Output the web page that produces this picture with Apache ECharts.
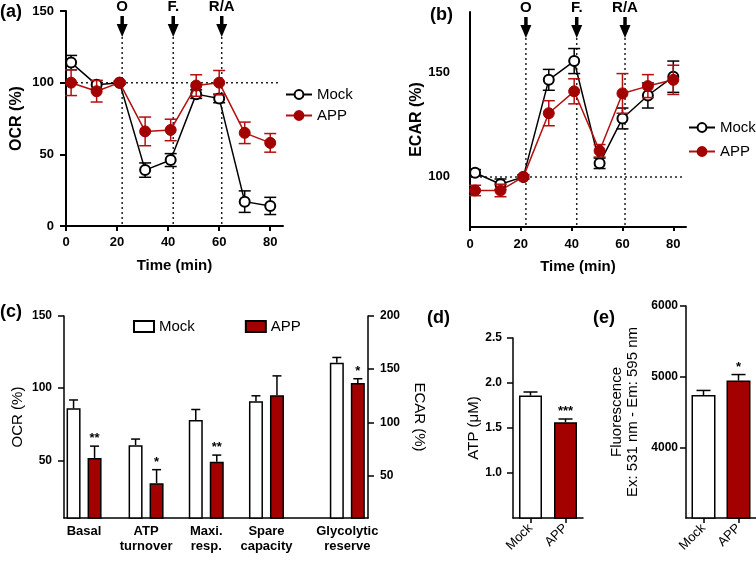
<!DOCTYPE html>
<html><head><meta charset="utf-8">
<script src="https://cdn.jsdelivr.net/npm/echarts@6/dist/echarts.min.js"></script>
<style>html,body{margin:0;padding:0;background:#fff}#c{width:756px;height:561px}</style>
</head><body><div id="c"></div>
<script>
// ---------------- data ----------------
const timeMin = [2, 12, 21, 31, 41, 51, 60, 70, 80];
const ocrMock = [114, 98.5, 100, 39, 46, 92, 89, 17, 14];
const ocrMockErr = [5, 3, 1, 5, 4.5, 3, 3, 7.5, 6];
const ocrApp = [100, 94, 100, 66, 67, 98, 100, 65, 58];
const ocrAppErr = [9, 7.5, 1, 10, 7.5, 7.5, 8.5, 7.5, 6.5];
const ecarMock = [102, 96.5, 100, 146.5, 155.5, 106.5, 128, 139, 148];
const ecarMockErr = [1.5, 2.5, 1, 5, 6, 2.5, 5, 6, 7.5];
const ecarApp = [93.5, 93.5, 100, 130.5, 141, 112.5, 140, 143.5, 146.5];
const ecarAppErr = [2.5, 3, 1, 6, 6, 3, 9.5, 5.5, 7];
const injectTimes = [22, 42, 61];
const injectLabels = ['O', 'F.', 'R/A'];
const baselinePct = 100;
const baselineEnd = 84;

const paramCats = ['Basal', 'ATP\nturnover', 'Maxi.\nresp.', 'Spare\ncapacity', 'Glycolytic\nreserve'];
const paramAxis = ['OCR', 'OCR', 'OCR', 'OCR', 'ECAR'];
const paramMock = [86, 60.5, 78, 91, 156];
const paramMockErr = [5.8, 4.2, 7.2, 3.7, 5];
const paramApp = [51.5, 34, 49, 95, 137];
const paramAppErr = [8.3, 9.5, 4.6, 13.5, 4];
const paramAppSig = ['**', '*', '**', '', '*'];

const groups = ['Mock', 'APP'];
const atpVals = [1.86, 1.565];
const atpErr = [0.04, 0.035];
const atpSig = ['', '***'];
const fluoVals = [4740, 4945];
const fluoErr = [65, 85];
const fluoSig = ['', '*'];

const timeTicks = [0, 20, 40, 60, 80];
const ocrTicks = [0, 50, 100, 150];
const ecarTicks = [100, 150];
const ocrBarTicks = [50, 100, 150];
const ecarBarTicks = [50, 100, 150, 200];
const atpTicks = [1.0, 1.5, 2.0, 2.5];
const fluoTicks = [4000, 5000, 6000];

// ---------------- layout / style ----------------
const paramPos = [0.33, 1.35, 2.34, 3.33, 4.66]; // horizontal slot of each group in panel (c)
const FONT = '"Liberation Sans", Arial, Helvetica, sans-serif';
const RED = '#a30000';
const RED_LINE = '#b30f0f';
const BLACK = '#000';

function errRender(o) {
  return function (params, api) {
    const x = api.value(0), y = api.value(1), e = api.value(2);
    const p = api.coord([x, y]);
    const hi = api.coord([x, y + e]);
    const lo = o.both ? api.coord([x, y - e]) : p;
    const cx = p[0] + (o.dx || 0);
    const st = { stroke: o.color, lineWidth: o.width || 1.5 };
    const ch = [
      { type: 'line', shape: { x1: cx, y1: lo[1], x2: cx, y2: hi[1] }, style: st },
      { type: 'line', shape: { x1: cx - o.cap, y1: hi[1], x2: cx + o.cap, y2: hi[1] }, style: st }
    ];
    if (o.both) ch.push({ type: 'line', shape: { x1: cx - o.cap, y1: lo[1], x2: cx + o.cap, y2: lo[1] }, style: st });
    const s = o.sig ? o.sig[params.dataIndex] : '';
    if (s) ch.push({ type: 'text', style: { x: cx, y: hi[1] - 1, text: s, fill: '#000', fontSize: 13, fontWeight: 'bold', fontFamily: FONT, align: 'center', verticalAlign: 'bottom' } });
    return { type: 'group', children: ch };
  };
}

function injectRender(yMin) {
  return function (params, api) {
    const t = api.value(0);
    const b = api.coord([t, yMin]);
    const x = b[0];
    const top = params.coordSys.y;
    const tip = top + 26;
    return { type: 'group', children: [
      { type: 'line', shape: { x1: x, y1: tip, x2: x, y2: b[1] }, style: { stroke: '#222', lineWidth: 1.5, lineDash: [2, 3] } },
      { type: 'line', shape: { x1: x, y1: top + 5, x2: x, y2: top + 16 }, style: { stroke: '#000', lineWidth: 3.5 } },
      { type: 'polygon', shape: { points: [[x - 5.5, top + 13], [x + 5.5, top + 13], [x, tip]] }, style: { fill: '#000' } },
      { type: 'text', style: { x: x, y: top - 4, text: injectLabels[params.dataIndex], fill: '#000', fontSize: 15, fontWeight: 'bold', fontFamily: FONT, align: 'center', verticalAlign: 'middle' } }
    ] };
  };
}

function hlineRender(params, api) {
  const a = api.coord([api.value(0), api.value(1)]);
  const b = api.coord([api.value(2), api.value(1)]);
  return { type: 'line', shape: { x1: a[0], y1: a[1], x2: b[0], y2: b[1] }, style: { stroke: '#222', lineWidth: 1.5, lineDash: [2, 3] } };
}

function pts(xs, ys) { return xs.map((x, i) => [x, ys[i]]); }
function errPts(xs, ys, es) { return xs.map((x, i) => [x, ys[i], es[i]]); }

const axLine = (w) => ({ show: true, onZero: false, lineStyle: { color: BLACK, width: w } });
const lbl = (size, extra) => Object.assign({ color: BLACK, fontSize: size, fontWeight: 'bold', fontFamily: FONT }, extra || {});

// panel (c) split by axis
const ocrIdx = paramAxis.map((a, i) => a === 'OCR' ? i : -1).filter(i => i >= 0);
const ecarIdx = paramAxis.map((a, i) => a === 'ECAR' ? i : -1).filter(i => i >= 0);
const pick = (arr, idx) => idx.map(i => arr[i]);

const legendFmt = n => n.slice(2);

const option = {
  animation: false,
  textStyle: { fontFamily: FONT },
  grid: [
    { left: 66, top: 11, width: 217, height: 215, outerBoundsMode: 'none' },
    { left: 470, top: 12, width: 216, height: 215, outerBoundsMode: 'none' },
    { left: 64, top: 316, width: 304, height: 202, outerBoundsMode: 'none' },
    { left: 513, top: 338, width: 70, height: 180, outerBoundsMode: 'none' },
    { left: 686, top: 306, width: 70, height: 212, outerBoundsMode: 'none' }
  ],
  xAxis: [
    { gridIndex: 0, type: 'value', min: 0, max: 85, splitLine: { show: false }, axisLine: axLine(2),
      axisTick: { show: true, length: 5, customValues: timeTicks, lineStyle: { color: BLACK, width: 2 } },
      axisLabel: lbl(13, { margin: 10, customValues: timeTicks }),
      name: 'Time (min)', nameLocation: 'middle', nameGap: 32, nameTextStyle: { fontSize: 15, fontWeight: 'bold', color: BLACK } },
    { gridIndex: 1, type: 'value', min: 0, max: 85, splitLine: { show: false }, axisLine: axLine(2),
      axisTick: { show: true, length: 4, customValues: timeTicks, lineStyle: { color: BLACK, width: 2 } },
      axisLabel: lbl(13, { margin: 11, customValues: timeTicks }),
      name: 'Time (min)', nameLocation: 'middle', nameGap: 32, nameTextStyle: { fontSize: 15, fontWeight: 'bold', color: BLACK } },
    { gridIndex: 2, type: 'value', min: 0, max: 5, splitLine: { show: false }, axisLine: axLine(1.5),
      axisTick: { show: false },
      axisLabel: { color: BLACK, fontSize: 13, fontWeight: 'bold', fontFamily: FONT, margin: 6, lineHeight: 15,
        customValues: paramPos,
        formatter: v => { const i = paramPos.findIndex(p => Math.abs(p - v) < 1e-6); return i >= 0 ? paramCats[i] : ''; } } },
    { gridIndex: 2, type: 'value', min: 0, max: 5, show: false, position: 'top' },
    { gridIndex: 3, type: 'category', data: groups, axisLine: axLine(1.5),
      axisTick: { show: true, alignWithLabel: true, length: 5, lineStyle: { color: BLACK, width: 1.5 } },
      axisLabel: { color: BLACK, fontSize: 13, fontFamily: FONT, rotate: 45, margin: 8 } },
    { gridIndex: 4, type: 'category', data: groups, axisLine: axLine(1.5),
      axisTick: { show: true, alignWithLabel: true, length: 5, lineStyle: { color: BLACK, width: 1.5 } },
      axisLabel: { color: BLACK, fontSize: 13, fontFamily: FONT, rotate: 45, margin: 8 } }
  ],
  yAxis: [
    { gridIndex: 0, type: 'value', min: 0, max: 150, splitLine: { show: false }, axisLine: axLine(2),
      axisTick: { show: true, length: 6, customValues: ocrTicks, lineStyle: { color: BLACK, width: 2 } },
      axisLabel: lbl(13, { margin: 12, customValues: ocrTicks }),
      name: 'OCR (%)', nameLocation: 'middle', nameGap: 41, nameRotate: 90, nameTextStyle: { fontSize: 16, fontWeight: 'bold', color: BLACK } },
    { gridIndex: 1, type: 'value', min: 76, max: 179, splitLine: { show: false }, axisLine: axLine(2),
      axisTick: { show: false },
      axisLabel: lbl(13, { margin: 20, customValues: ecarTicks }),
      name: 'ECAR (%)', nameLocation: 'middle', nameGap: 38, nameRotate: 90, nameTextStyle: { fontSize: 16, fontWeight: 'bold', color: BLACK } },
    { gridIndex: 2, type: 'value', min: 10, max: 150, splitLine: { show: false }, axisLine: axLine(1.5),
      axisTick: { show: true, length: 6, customValues: ocrBarTicks, lineStyle: { color: BLACK, width: 1.5 } },
      axisLabel: lbl(12, { margin: 12, customValues: ocrBarTicks }),
      name: 'OCR (%)', nameLocation: 'middle', nameGap: 39, nameRotate: 90, nameTextStyle: { fontSize: 15, color: BLACK } },
    { gridIndex: 2, type: 'value', position: 'right', min: 10, max: 200, splitLine: { show: false }, axisLine: axLine(1.5),
      axisTick: { show: true, length: 6, customValues: ecarBarTicks, lineStyle: { color: BLACK, width: 1.5 } },
      axisLabel: lbl(12, { margin: 12, customValues: ecarBarTicks }),
      name: 'ECAR (%)', nameLocation: 'middle', nameGap: 44, nameRotate: -90, nameTextStyle: { fontSize: 15, color: BLACK } },
    { gridIndex: 3, type: 'value', min: 0.5, max: 2.5, splitLine: { show: false }, axisLine: axLine(1.5),
      axisTick: { show: true, length: 6, customValues: atpTicks, lineStyle: { color: BLACK, width: 1.5 } },
      axisLabel: lbl(12, { margin: 11, customValues: atpTicks, formatter: v => v.toFixed(1) }),
      name: 'ATP (μM)', nameLocation: 'middle', nameGap: 32, nameRotate: 90, nameTextStyle: { fontSize: 15, color: BLACK } },
    { gridIndex: 4, type: 'value', min: 3000, max: 6000, splitLine: { show: false }, axisLine: axLine(1.5),
      axisTick: { show: true, length: 6, customValues: fluoTicks, lineStyle: { color: BLACK, width: 1.5 } },
      axisLabel: lbl(12, { margin: 8, customValues: fluoTicks, formatter: v => String(v) }),
      name: 'Fluorescence\nEx: 531 nm - Em: 595 nm', nameLocation: 'middle', nameGap: 45, nameRotate: 90,
      nameTextStyle: { fontSize: 15, lineHeight: 16, color: BLACK } }
  ],
  legend: [
    { left: 285, top: 87, orient: 'vertical', padding: 0, itemWidth: 26, itemHeight: 11, itemGap: 6, selectedMode: false,
      data: ['a:Mock', 'a:APP'], formatter: legendFmt, textStyle: { fontSize: 15, color: BLACK } },
    { left: 688, top: 120, orient: 'vertical', padding: 0, itemWidth: 26, itemHeight: 11, itemGap: 9, selectedMode: false,
      data: ['b:Mock', 'b:APP'], formatter: legendFmt, textStyle: { fontSize: 15, color: BLACK } },
    { left: 133, top: 319, orient: 'horizontal', padding: 0, itemWidth: 20, itemHeight: 11, itemGap: 50, selectedMode: false,
      icon: 'rect', data: ['c:Mock', 'c:APP'], formatter: legendFmt, textStyle: { fontSize: 15, color: BLACK } }
  ],
  graphic: [
    { type: 'text', x: 0, y: 12, style: { text: '(a)', fill: BLACK, fontSize: 18, fontWeight: 'bold', fontFamily: FONT, verticalAlign: 'middle' } },
    { type: 'text', x: 430, y: 15, style: { text: '(b)', fill: BLACK, fontSize: 18, fontWeight: 'bold', fontFamily: FONT, verticalAlign: 'middle' } },
    { type: 'text', x: 0, y: 312, style: { text: '(c)', fill: BLACK, fontSize: 18, fontWeight: 'bold', fontFamily: FONT, verticalAlign: 'middle' } },
    { type: 'text', x: 427, y: 318, style: { text: '(d)', fill: BLACK, fontSize: 18, fontWeight: 'bold', fontFamily: FONT, verticalAlign: 'middle' } },
    { type: 'text', x: 593, y: 318, style: { text: '(e)', fill: BLACK, fontSize: 18, fontWeight: 'bold', fontFamily: FONT, verticalAlign: 'middle' } }
  ],
  series: [
    // ---- (a) ----
    { type: 'custom', xAxisIndex: 0, yAxisIndex: 0, clip: false, silent: true, z: 1, renderItem: hlineRender, data: [[0, baselinePct, baselineEnd]] },
    { type: 'custom', xAxisIndex: 0, yAxisIndex: 0, clip: false, silent: true, z: 1, renderItem: injectRender(0), data: injectTimes.map(t => [t, 0]) },
    { type: 'custom', xAxisIndex: 0, yAxisIndex: 0, clip: false, silent: true, z: 2, renderItem: errRender({ both: true, cap: 6, color: BLACK }), data: errPts(timeMin, ocrMock, ocrMockErr) },
    { type: 'line', name: 'a:Mock', xAxisIndex: 0, yAxisIndex: 0, z: 3, data: pts(timeMin, ocrMock), symbol: 'circle', symbolSize: 10,
      itemStyle: { color: '#fff', borderColor: BLACK, borderWidth: 2 }, lineStyle: { color: BLACK, width: 1.5 } },
    { type: 'custom', xAxisIndex: 0, yAxisIndex: 0, clip: false, silent: true, z: 4, renderItem: errRender({ both: true, cap: 6, color: RED_LINE }), data: errPts(timeMin, ocrApp, ocrAppErr) },
    { type: 'line', name: 'a:APP', xAxisIndex: 0, yAxisIndex: 0, z: 5, data: pts(timeMin, ocrApp), symbol: 'circle', symbolSize: 11,
      itemStyle: { color: RED, borderColor: RED, borderWidth: 1 }, lineStyle: { color: RED_LINE, width: 1.5 } },
    // ---- (b) ----
    { type: 'custom', xAxisIndex: 1, yAxisIndex: 1, clip: false, silent: true, z: 1, renderItem: hlineRender, data: [[0, baselinePct, baselineEnd]] },
    { type: 'custom', xAxisIndex: 1, yAxisIndex: 1, clip: false, silent: true, z: 1, renderItem: injectRender(76), data: injectTimes.map(t => [t, 76]) },
    { type: 'custom', xAxisIndex: 1, yAxisIndex: 1, clip: false, silent: true, z: 2, renderItem: errRender({ both: true, cap: 6, color: BLACK }), data: errPts(timeMin, ecarMock, ecarMockErr) },
    { type: 'line', name: 'b:Mock', xAxisIndex: 1, yAxisIndex: 1, z: 3, data: pts(timeMin, ecarMock), symbol: 'circle', symbolSize: 10,
      itemStyle: { color: '#fff', borderColor: BLACK, borderWidth: 2 }, lineStyle: { color: BLACK, width: 1.5 } },
    { type: 'custom', xAxisIndex: 1, yAxisIndex: 1, clip: false, silent: true, z: 4, renderItem: errRender({ both: true, cap: 6, color: RED_LINE }), data: errPts(timeMin, ecarApp, ecarAppErr) },
    { type: 'line', name: 'b:APP', xAxisIndex: 1, yAxisIndex: 1, z: 5, data: pts(timeMin, ecarApp), symbol: 'circle', symbolSize: 11,
      itemStyle: { color: RED, borderColor: RED, borderWidth: 1 }, lineStyle: { color: RED_LINE, width: 1.5 } },
    // ---- (c) OCR parameters ----
    { type: 'bar', name: 'c:Mock', xAxisIndex: 2, yAxisIndex: 2, barWidth: 14, barGap: '50%',
      data: pts(pick(paramPos, ocrIdx), pick(paramMock, ocrIdx)),
      itemStyle: { color: '#fff', borderColor: BLACK, borderWidth: 1.5 } },
    { type: 'bar', name: 'c:APP', xAxisIndex: 2, yAxisIndex: 2, barWidth: 14, barGap: '50%',
      data: pts(pick(paramPos, ocrIdx), pick(paramApp, ocrIdx)),
      itemStyle: { color: RED, borderColor: BLACK, borderWidth: 1.5 } },
    { type: 'custom', xAxisIndex: 2, yAxisIndex: 2, clip: false, silent: true, z: 4,
      renderItem: errRender({ cap: 4.5, color: BLACK, dx: -10.5 }), data: errPts(pick(paramPos, ocrIdx), pick(paramMock, ocrIdx), pick(paramMockErr, ocrIdx)) },
    { type: 'custom', xAxisIndex: 2, yAxisIndex: 2, clip: false, silent: true, z: 4,
      renderItem: errRender({ cap: 4.5, color: BLACK, dx: 10.5, sig: pick(paramAppSig, ocrIdx) }), data: errPts(pick(paramPos, ocrIdx), pick(paramApp, ocrIdx), pick(paramAppErr, ocrIdx)) },
    // ---- (c) ECAR parameter ----
    { type: 'bar', name: 'c:Mock', xAxisIndex: 3, yAxisIndex: 3, barWidth: 14, barGap: '50%',
      data: pts(pick(paramPos, ecarIdx), pick(paramMock, ecarIdx)),
      itemStyle: { color: '#fff', borderColor: BLACK, borderWidth: 1.5 } },
    { type: 'bar', name: 'c:APP', xAxisIndex: 3, yAxisIndex: 3, barWidth: 14, barGap: '50%',
      data: pts(pick(paramPos, ecarIdx), pick(paramApp, ecarIdx)),
      itemStyle: { color: RED, borderColor: BLACK, borderWidth: 1.5 } },
    { type: 'custom', xAxisIndex: 3, yAxisIndex: 3, clip: false, silent: true, z: 4,
      renderItem: errRender({ cap: 4.5, color: BLACK, dx: -10.5 }), data: errPts(pick(paramPos, ecarIdx), pick(paramMock, ecarIdx), pick(paramMockErr, ecarIdx)) },
    { type: 'custom', xAxisIndex: 3, yAxisIndex: 3, clip: false, silent: true, z: 4,
      renderItem: errRender({ cap: 4.5, color: BLACK, dx: 10.5, sig: pick(paramAppSig, ecarIdx) }), data: errPts(pick(paramPos, ecarIdx), pick(paramApp, ecarIdx), pick(paramAppErr, ecarIdx)) },
    // ---- (d) ATP ----
    { type: 'bar', name: 'd:ATP', xAxisIndex: 4, yAxisIndex: 4, barWidth: 23,
      data: atpVals.map((v, i) => ({ value: v, itemStyle: { color: i ? RED : '#fff', borderColor: BLACK, borderWidth: 1.5 } })) },
    { type: 'custom', xAxisIndex: 4, yAxisIndex: 4, clip: false, silent: true, z: 4,
      renderItem: errRender({ cap: 7, color: BLACK, sig: atpSig }), data: errPts(groups, atpVals, atpErr) },
    // ---- (e) Fluorescence ----
    { type: 'bar', name: 'e:Fluo', xAxisIndex: 5, yAxisIndex: 5, barWidth: 24,
      data: fluoVals.map((v, i) => ({ value: v, itemStyle: { color: i ? RED : '#fff', borderColor: BLACK, borderWidth: 1.5 } })) },
    { type: 'custom', xAxisIndex: 5, yAxisIndex: 5, clip: false, silent: true, z: 4,
      renderItem: errRender({ cap: 7, color: BLACK, sig: fluoSig }), data: errPts(groups, fluoVals, fluoErr) }
  ]
};

const chart = echarts.init(document.getElementById('c'), null, { renderer: 'canvas' });
chart.setOption(option);
</script>
</body></html>
